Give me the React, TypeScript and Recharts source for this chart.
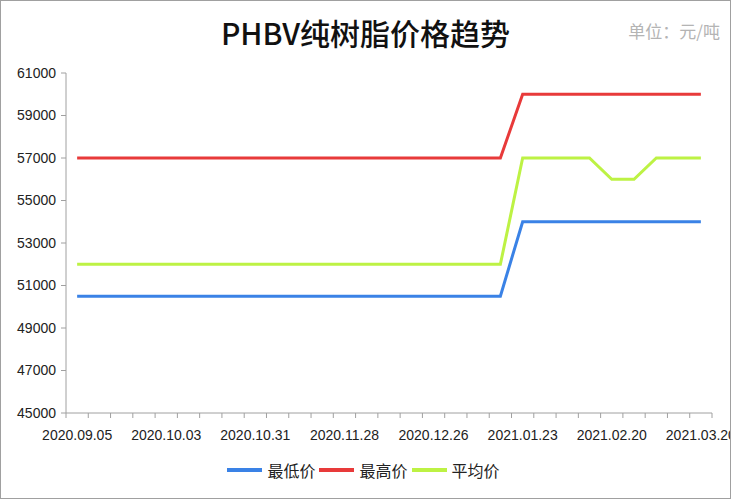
import React from "react";
import { LineChart, Line, XAxis, YAxis } from "recharts";

const dates = [
  "2020.09.05", "2020.09.12", "2020.09.19", "2020.09.26",
  "2020.10.03", "2020.10.10", "2020.10.17", "2020.10.24",
  "2020.10.31", "2020.11.07", "2020.11.14", "2020.11.21",
  "2020.11.28", "2020.12.05", "2020.12.12", "2020.12.19",
  "2020.12.26", "2021.01.02", "2021.01.09", "2021.01.16",
  "2021.01.23", "2021.01.30", "2021.02.06", "2021.02.13",
  "2021.02.20", "2021.02.27", "2021.03.06", "2021.03.13",
  "2021.03.20",
];

const lowPrice = [
  50500, 50500, 50500, 50500, 50500, 50500, 50500, 50500, 50500, 50500,
  50500, 50500, 50500, 50500, 50500, 50500, 50500, 50500, 50500, 50500,
  54000, 54000, 54000, 54000, 54000, 54000, 54000, 54000, 54000,
];

const highPrice = [
  57000, 57000, 57000, 57000, 57000, 57000, 57000, 57000, 57000, 57000,
  57000, 57000, 57000, 57000, 57000, 57000, 57000, 57000, 57000, 57000,
  60000, 60000, 60000, 60000, 60000, 60000, 60000, 60000, 60000,
];

const avgPrice = [
  52000, 52000, 52000, 52000, 52000, 52000, 52000, 52000, 52000, 52000,
  52000, 52000, 52000, 52000, 52000, 52000, 52000, 52000, 52000, 52000,
  57000, 57000, 57000, 57000, 56000, 56000, 57000, 57000, 57000,
];

const yTicks = [45000, 47000, 49000, 51000, 53000, 55000, 57000, 59000, 61000];
const labelEvery = 4;

const series = [
  { key: "low", name: "最低价", color: "#3a82e6" },
  { key: "high", name: "最高价", color: "#e83a3a" },
  { key: "avg", name: "平均价", color: "#bdf244" },
];

const rows = dates.map((d, i) => ({
  idx: i,
  date: d,
  low: lowPrice[i],
  high: highPrice[i],
  avg: avgPrice[i],
}));

// tick marks sit between categories, labels sit on every 4th category
const xTicks: number[] = [];
for (let i = 0; i <= dates.length; i++) xTicks.push(i - 0.5);
for (let i = 0; i < dates.length; i += labelEvery) xTicks.push(i);
xTicks.sort((a, b) => a - b);

const numFont = "'Liberation Sans', Arial, sans-serif";
const cjkFont = "'Noto Sans CJK SC', sans-serif";

function XTick(props: any) {
  const { x, y, payload } = props;
  const v = payload.value as number;
  if (!Number.isInteger(v)) {
    return <line x1={x} x2={x} y1={y - 5} y2={y} stroke="#a0a0a0" strokeWidth={1} />;
  }
  return (
    <text x={x} y={y + 22} textAnchor="middle" fill="#222" fontSize={14} fontFamily={numFont}>
      {dates[v]}
    </text>
  );
}

export default function App() {
  return (
    <div style={{ position: "absolute", left: 0, top: 0, width: 731, height: 499, background: "#fff" }}>
      <div
        style={{
          position: "absolute", left: 0, right: 0, top: 12, textAlign: "center",
          fontFamily: cjkFont, fontSize: 30, fontWeight: 500, color: "#111", lineHeight: "40px",
        }}
      >
        PHBV纯树脂价格趋势
      </div>
      <div
        style={{
          position: "absolute", right: 11, top: 20, fontFamily: cjkFont, fontSize: 17,
          color: "#b4b4b4", lineHeight: "22px",
        }}
      >
        单位：元/吨
      </div>
      <LineChart width={731} height={499} data={rows} margin={{ top: 73, right: 19, bottom: 0, left: 6 }}>
        <XAxis
          dataKey="idx"
          type="number"
          domain={[-0.5, dates.length - 0.5]}
          ticks={xTicks}
          interval={0}
          tick={<XTick />}
          tickLine={false}
          tickSize={5}
          tickMargin={0}
          height={86}
          axisLine={{ stroke: "#a0a0a0" }}
        />
        <YAxis
          domain={[45000, 61000]}
          ticks={yTicks}
          interval={0}
          width={60}
          tickSize={5}
          tickMargin={5}
          axisLine={{ stroke: "#a0a0a0" }}
          tickLine={{ stroke: "#a0a0a0" }}
          tick={{ fill: "#222", fontSize: 14, fontFamily: numFont }}
        />
        {series.map((s) => (
          <Line
            key={s.key}
            type="linear"
            dataKey={s.key}
            name={s.name}
            stroke={s.color}
            strokeWidth={3}
            dot={false}
            activeDot={false}
            isAnimationActive={false}
          />
        ))}
      </LineChart>
      <div
        style={{
          position: "absolute", left: 0, right: 0, top: 458, display: "flex",
          justifyContent: "center", alignItems: "center", fontFamily: cjkFont, fontSize: 16, color: "#222",
        }}
      >
        {series.map((s) => (
          <div key={s.key} style={{ display: "flex", alignItems: "center", marginRight: 4 }}>
            <span style={{ display: "inline-block", width: 35, height: 4, background: s.color, marginRight: 5 }} />
            <span style={{ lineHeight: "24px" }}>{s.name}</span>
          </div>
        ))}
      </div>
      <div
        style={{
          position: "absolute", left: 0, top: 0, width: 731, height: 499, boxSizing: "border-box",
          border: "1px solid #a0a0a0", pointerEvents: "none",
        }}
      />
    </div>
  );
}
